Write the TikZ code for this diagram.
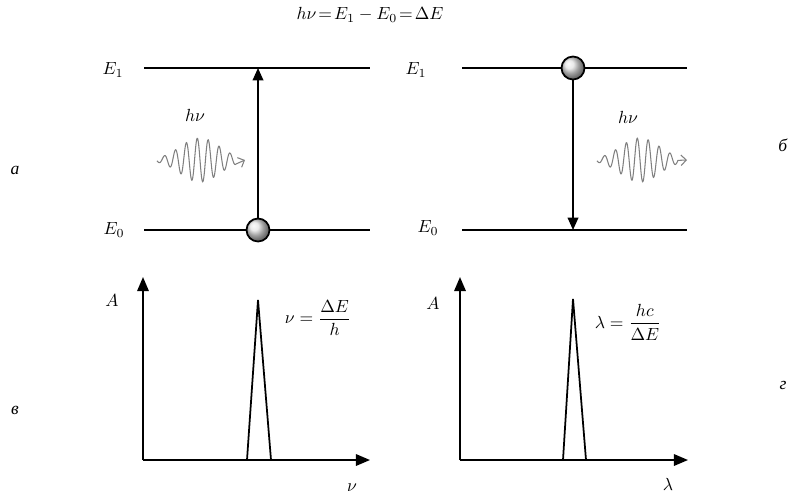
\documentclass[tikz,border=0pt]{standalone}
\usepackage{amsmath, amssymb}
\usepackage{fontspec}
\setmainfont{Liberation Serif}
\usetikzlibrary{arrows.meta}

\tikzset{
  level/.style={line width=1.5pt},
  trans/.style={line width=1pt, -{Triangle[length=7pt,width=6pt]}},
  axis/.style={line width=1.1pt, -{Triangle[length=8pt,width=6.5pt]}},
  ball/.style={circle, draw, line width=1pt, minimum size=0.46cm, inner sep=0pt, shade, ball color=gray!22},
  wave/.style={gray, line width=0.6pt},
  peak/.style={line width=1pt, line join=miter},
}

\begin{document}
\begin{tikzpicture}[x=0.02cm, y=-0.02cm]
\useasboundingbox (0,0) rectangle (793,494);

\node (top) at (370,15) {$h\nu\! =\! E_1 - E_0\! =\! \Delta E$};

% absorption (left)
\coordinate (L1a) at (144,68);
\coordinate (L1b) at (370,68);
\coordinate (L0a) at (144,230);
\coordinate (L0b) at (370,230);
\draw[level] (L1a) -- (L1b);
\draw[level] (L0a) -- (L0b);
\node (eL1) at (113,70) {$E_1$};
\node (eL0) at (114,230) {$E_0$};
\coordinate (tL) at (258,68);
\node[ball] (bL) at (258,230) {};
\draw[trans] (bL) -- (tL);
\node (hvL) at (195,115) {$h\nu$};
\coordinate (wL) at (245,160);
\draw[wave, -{Straight Barb[length=3pt]}] plot[domain=157:236, samples=200, smooth]
  (\x, {160 + 22*exp(-((\x-200)/28)^2)*sin(33*(\x-200))}) -- (wL);

% emission (right)
\coordinate (R1a) at (462,68);
\coordinate (R1b) at (687,68);
\coordinate (R0a) at (462,230);
\coordinate (R0b) at (687,230);
\draw[level] (R1a) -- (R1b);
\draw[level] (R0a) -- (R0b);
\node (eR1) at (416,70) {$E_1$};
\node (eR0) at (428,228) {$E_0$};
\node[ball] (bR) at (573,68) {};
\coordinate (tR) at (573,230);
\draw[trans] (bR) -- (tR);
\node (hvR) at (628,117) {$h\nu$};
\coordinate (wR) at (687,160);
\draw[wave, -{Straight Barb[length=3pt]}] plot[domain=597:678, samples=200, smooth]
  (\x, {160 + 22*exp(-((\x-640)/28)^2)*sin(33*(\x-640))}) -- (wR);

% spectra
\coordinate (oL) at (143,460);
\coordinate (yL) at (143,277);
\coordinate (xL) at (370,460);
\draw[axis] (oL) -- (yL);
\draw[axis] (oL) -- (xL);
\coordinate (pL) at (258,300);
\draw[peak] (247,460) -- (pL) -- (271,460);
\node (aL) at (112,300) {$A$};
\node (fL) at (318,318) {$\nu = \dfrac{\Delta E}{h}$};
\node (nuL) at (352,488) {$\nu$};

\coordinate (oR) at (460,460);
\coordinate (yR) at (460,277);
\coordinate (xR) at (688,460);
\draw[axis] (oR) -- (yR);
\draw[axis] (oR) -- (xR);
\coordinate (pR) at (573,299);
\draw[peak] (563,460) -- (pR) -- (586,460);
\node (aR) at (433,303) {$A$};
\node (fR) at (628,322) {$\lambda = \dfrac{hc}{\Delta E}$};
\node (laR) at (668,484) {$\lambda$};

% panel letters
\node (pa) at (15,170) {\textit{а}};
\node (pb) at (783,145) {\textit{б}};
\node (pv) at (15,410) {\textit{в}};
\node (pg) at (783,385) {\textit{г}};
\end{tikzpicture}
\end{document}
